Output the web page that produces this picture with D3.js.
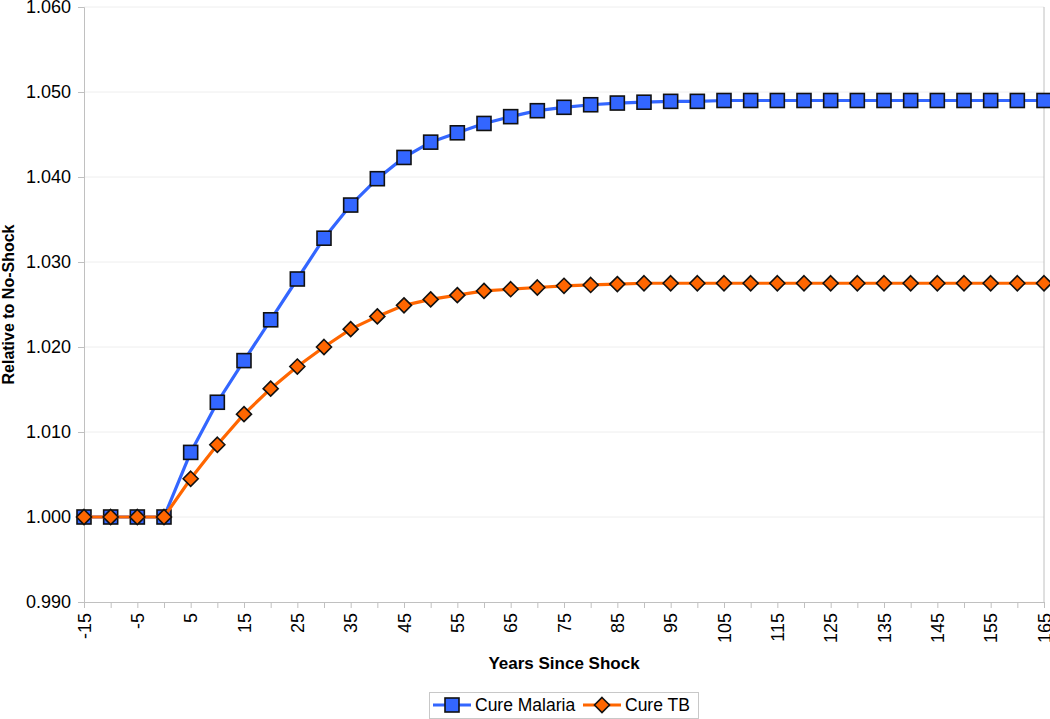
<!DOCTYPE html>
<html>
<head>
<meta charset="utf-8">
<script src="https://cdn.jsdelivr.net/npm/d3@7"></script>
<style>
  body { margin: 0; background: #fff; }
  svg { font-family: Arial, "Liberation Sans", sans-serif; }
</style>
</head>
<body>
<svg id="chart" width="1050" height="719"></svg>
<script>
// years since shock, one point every 5 years
var years = d3.range(-15, 166, 5);
var malaria = [1.0000, 1.0000, 1.0000, 1.0000, 1.0076, 1.0135, 1.0184, 1.0232, 1.0280,
    1.0328, 1.0367, 1.0398, 1.0423, 1.0441, 1.0452, 1.0463, 1.0471, 1.0478, 1.0482,
    1.0485, 1.0487, 1.0488, 1.0489, 1.0489, 1.0490, 1.0490, 1.0490, 1.0490, 1.0490,
    1.0490, 1.0490, 1.0490, 1.0490, 1.0490, 1.0490, 1.0490, 1.0490];
var tb = [1.0000, 1.0000, 1.0000, 1.0000, 1.0045, 1.0085, 1.0121, 1.0151, 1.0177,
    1.0200, 1.0221, 1.0236, 1.0249, 1.0256, 1.0261, 1.0266, 1.0268, 1.0270, 1.0272,
    1.0273, 1.0274, 1.0275, 1.0275, 1.0275, 1.0275, 1.0275, 1.0275, 1.0275, 1.0275,
    1.0275, 1.0275, 1.0275, 1.0275, 1.0275, 1.0275, 1.0275, 1.0275];
var yTicks = [0.990, 1.000, 1.010, 1.020, 1.030, 1.040, 1.050, 1.060];
var xLabels = d3.range(-15, 166, 10);

var svg = d3.select("#chart");
var plotL = 84, plotR = 1044, plotT = 7, plotB = 602;

var x = d3.scaleLinear().domain([-15, 165]).range([plotL, plotR]);
var y = d3.scaleLinear().domain([0.990, 1.060]).range([plotB, plotT]);

// gridlines
svg.append("g").selectAll("line")
    .data(yTicks.slice(1))
  .enter()
    .append("line")
    .attr("x1", plotL).attr("x2", plotR)
    .attr("y1", function(d) { return y(d); })
    .attr("y2", function(d) { return y(d); })
    .attr("stroke", "#eeeeee")
    .attr("stroke-width", 1);

// right border of plot
svg.append("line")
    .attr("x1", plotR).attr("x2", plotR)
    .attr("y1", plotT).attr("y2", plotB)
    .attr("stroke", "#c0c0c0");

// y axis
var yAxis = svg.append("g")
    .attr("transform", "translate(" + plotL + ",0)")
    .call(d3.axisLeft(y).tickValues(yTicks).tickFormat(d3.format(".3f")).tickSize(6).tickPadding(7));
yAxis.select(".domain").attr("stroke", "#c0c0c0");
yAxis.selectAll(".tick line").attr("stroke", "#c0c0c0");
yAxis.selectAll(".tick text").attr("font-size", 18).attr("fill", "#000")
    .attr("font-family", "Arial, 'Liberation Sans', sans-serif");

// x axis
var xAxis = svg.append("g")
    .attr("transform", "translate(0," + plotB + ")")
    .call(d3.axisBottom(x).tickValues(years).tickFormat("").tickSize(6));
xAxis.select(".domain").attr("stroke", "#c0c0c0");
xAxis.selectAll(".tick line").attr("stroke", "#c0c0c0");

svg.append("g").selectAll("text")
    .data(xLabels)
  .enter()
    .append("text")
    .attr("transform", function(d) { return "translate(" + (x(d) + 6.5) + "," + (plotB + 11) + ") rotate(-90)"; })
    .attr("text-anchor", "end")
    .attr("font-size", 18)
    .text(function(d) { return d; });

// axis titles
svg.append("text")
    .attr("transform", "translate(14," + ((plotT + plotB) / 2) + ") rotate(-90)")
    .attr("text-anchor", "middle")
    .attr("font-size", 16)
    .attr("font-weight", "bold")
    .text("Relative to No-Shock");

svg.append("text")
    .attr("x", (plotL + plotR) / 2)
    .attr("y", 669)
    .attr("text-anchor", "middle")
    .attr("font-size", 17)
    .attr("font-weight", "bold")
    .text("Years Since Shock");

var series = [
    { name: "Cure Malaria", values: malaria, color: "#3366ff", shape: "square" },
    { name: "Cure TB", values: tb, color: "#ff6600", shape: "diamond" }
];

var line = d3.line()
    .x(function(d) { return x(d[0]); })
    .y(function(d) { return y(d[1]); });

function marker(sel, s) {
    if (s.shape === "square") {
        sel.append("rect")
            .attr("x", -7).attr("y", -7)
            .attr("width", 14).attr("height", 14)
            .attr("fill", s.color)
            .attr("stroke", "#111")
            .attr("stroke-width", 1.6);
    } else {
        sel.append("path")
            .attr("d", "M0,-7.5L7.5,0L0,7.5L-7.5,0Z")
            .attr("fill", s.color)
            .attr("stroke", "#111")
            .attr("stroke-width", 1.6);
    }
}

series.forEach(function(s) {
    var pts = years.map(function(yr, i) { return [yr, s.values[i]]; });
    var g = svg.append("g");
    g.append("path")
        .attr("d", line(pts))
        .attr("fill", "none")
        .attr("stroke", s.color)
        .attr("stroke-width", 3.2);
    g.selectAll("g.pt")
        .data(pts)
      .enter()
        .append("g")
        .attr("class", "pt")
        .attr("transform", function(d) { return "translate(" + x(d[0]) + "," + y(d[1]) + ")"; })
        .each(function() { marker(d3.select(this), s); });
});

// legend
var legend = svg.append("g");
legend.append("rect")
    .attr("x", 429.5).attr("y", 692.5)
    .attr("width", 269).attr("height", 26)
    .attr("fill", "#fff")
    .attr("stroke", "#c8c8c8");

var legendPos = [433, 583];
series.forEach(function(s, i) {
    var lx = legendPos[i];
    legend.append("line")
        .attr("x1", lx).attr("x2", lx + 38)
        .attr("y1", 705).attr("y2", 705)
        .attr("stroke", s.color)
        .attr("stroke-width", 3);
    var m = legend.append("g").attr("transform", "translate(" + (lx + 19) + ",705)");
    marker(m, s);
    legend.append("text")
        .attr("x", lx + 42)
        .attr("y", 711)
        .attr("font-size", 17.5)
        .text(s.name);
});
</script>
</body>
</html>
